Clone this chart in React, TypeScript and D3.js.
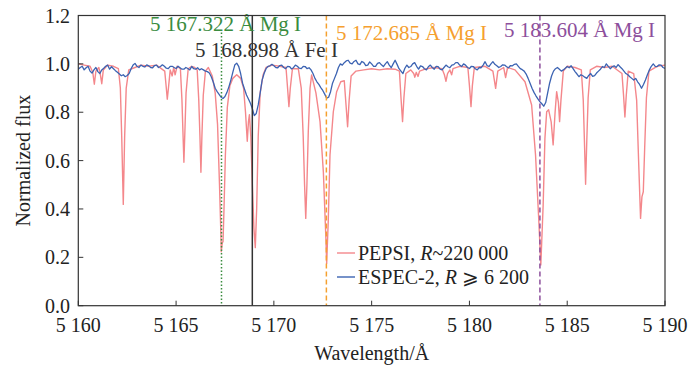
import React from "react";
import * as d3 from "d3";

// PEPSI (R~220 000) spectrum vertices
const pepsiWave = [
  5160.0, 5160.3, 5160.6, 5160.74, 5160.82, 5160.9, 5161.05, 5161.12, 5161.2, 5161.28,
  5161.5, 5161.8, 5162.05, 5162.15, 5162.22, 5162.3, 5162.37, 5162.45, 5162.58, 5162.9,
  5163.2, 5163.6, 5164.0, 5164.42, 5164.5, 5164.55, 5164.61, 5164.7, 5164.8, 5164.88,
  5164.95, 5165.05, 5165.22, 5165.3, 5165.35, 5165.4, 5165.45, 5165.51, 5165.62, 5165.8,
  5165.95, 5166.08, 5166.16, 5166.22, 5166.27, 5166.32, 5166.39, 5166.5, 5166.65, 5166.85,
  5167.0, 5167.12, 5167.22, 5167.29, 5167.31, 5167.36, 5167.4, 5167.45, 5167.52, 5167.62,
  5167.75, 5167.9, 5168.1, 5168.3, 5168.45, 5168.55, 5168.64, 5168.7, 5168.75, 5168.82,
  5168.9, 5168.98, 5169.05, 5169.12, 5169.2, 5169.3, 5169.45, 5169.6, 5169.9, 5170.3,
  5170.62, 5170.7, 5170.77, 5170.84, 5170.95, 5171.25, 5171.4, 5171.5, 5171.57, 5171.63,
  5171.69, 5171.76, 5171.85, 5171.93, 5172.15, 5172.36, 5172.53, 5172.66, 5172.7, 5172.78,
  5172.87, 5173.04, 5173.21, 5173.42, 5173.6, 5173.69, 5173.77, 5173.85, 5173.95, 5174.2,
  5174.6, 5175.0, 5175.4, 5175.8, 5176.2, 5176.42, 5176.5, 5176.58, 5176.65, 5176.75,
  5177.0, 5177.15, 5177.21, 5177.28, 5177.37, 5177.45, 5177.8, 5178.2, 5178.6, 5178.72,
  5178.8, 5178.88, 5179.0, 5179.09, 5179.16, 5179.5, 5179.92, 5180.0, 5180.08, 5180.15,
  5180.25, 5180.8, 5181.2, 5181.34, 5181.45, 5181.75, 5181.85, 5181.95, 5182.33, 5182.84,
  5183.18, 5183.38, 5183.55, 5183.65, 5183.77, 5183.86, 5183.95, 5184.05, 5184.18, 5184.28,
  5184.38, 5184.46, 5184.55, 5184.61, 5184.68, 5184.8, 5185.0, 5185.4, 5185.72, 5185.82,
  5185.88, 5185.94, 5186.0, 5186.07, 5186.18, 5186.5, 5186.9, 5187.3, 5187.8, 5187.88,
  5187.95, 5188.02, 5188.12, 5188.4, 5188.55, 5188.65, 5188.75, 5188.82, 5188.89, 5188.96,
  5189.05, 5189.18, 5189.6, 5190.0,
];
const pepsiFlux = [
  1.0, 0.995, 0.99, 0.965, 0.916, 0.97, 0.985, 0.96, 0.918, 0.975,
  0.995, 0.99, 0.98, 0.9, 0.7, 0.419, 0.7, 0.9, 0.975, 0.985,
  0.995, 0.99, 0.995, 0.97, 0.9, 0.854, 0.9, 0.975, 0.95, 0.985,
  0.955, 0.99, 0.98, 0.85, 0.72, 0.593, 0.72, 0.88, 0.98, 0.99,
  0.985, 0.975, 0.85, 0.7, 0.552, 0.7, 0.87, 0.97, 0.985, 0.95,
  0.88, 0.75, 0.5, 0.3, 0.223, 0.26, 0.265, 0.4, 0.62, 0.82,
  0.91, 0.94, 0.955, 0.94, 0.9, 0.8, 0.68, 0.76, 0.79, 0.7,
  0.5, 0.32, 0.24, 0.4, 0.7, 0.88, 0.955, 0.985, 0.995, 0.99,
  0.985, 0.9, 0.823, 0.9, 0.98, 0.98, 0.9, 0.7, 0.5, 0.361,
  0.5, 0.72, 0.9, 0.954, 0.88, 0.761, 0.554, 0.28, 0.175, 0.347,
  0.623, 0.802, 0.885, 0.926, 0.93, 0.83, 0.74, 0.85, 0.95, 0.97,
  0.975, 0.98, 0.975, 0.98, 0.978, 0.97, 0.86, 0.761, 0.86, 0.96,
  0.975, 0.96, 0.945, 0.965, 0.948, 0.97, 0.98, 0.985, 0.98, 0.955,
  0.928, 0.96, 0.975, 0.955, 0.98, 0.99, 0.985, 0.91, 0.823, 0.91,
  0.985, 0.99, 0.97, 0.899, 0.97, 0.985, 0.943, 0.985, 0.975, 0.926,
  0.83, 0.623, 0.347, 0.168, 0.416, 0.692, 0.802, 0.81, 0.76, 0.665,
  0.8, 0.885, 0.84, 0.761, 0.85, 0.97, 0.99, 0.985, 0.975, 0.85,
  0.68, 0.502, 0.68, 0.86, 0.975, 0.99, 0.985, 0.99, 0.96, 0.87,
  0.78, 0.87, 0.97, 0.96, 0.85, 0.6, 0.361, 0.45, 0.471, 0.65,
  0.86, 0.97, 0.99, 0.995,
];

// ESPEC-2 spectrum, sampled every 0.1 Å from 5160 Å
const especStart = 5160;
const especStep = 0.1;
const especFlux = [
  0.978, 0.985, 0.99, 0.975, 0.984, 0.99, 0.97, 0.962, 0.975, 0.985,
  0.968, 0.96, 0.975, 0.982, 0.99, 0.995, 0.978, 0.988, 0.98, 0.972,
  0.965, 0.958, 0.951, 0.955, 0.947, 0.952, 0.96, 0.98, 0.995, 1.002,
  0.99, 0.985, 0.995, 0.99, 0.987, 0.996, 0.992, 0.985, 0.984, 0.993,
  0.995, 0.985, 0.989, 0.996, 0.99, 0.982, 0.98, 0.99, 0.99, 0.985,
  0.981, 0.99, 0.984, 0.978, 0.978, 0.985, 0.981, 0.975, 0.989, 0.98,
  0.978, 0.984, 0.975, 0.98, 0.975, 0.97, 0.968, 0.962, 0.947, 0.925,
  0.899, 0.885, 0.874, 0.862, 0.857, 0.865, 0.882, 0.905, 0.933, 0.965,
  0.995, 1.003, 0.99, 0.96, 0.92, 0.895, 0.871, 0.855, 0.837, 0.815,
  0.786, 0.795, 0.83, 0.88, 0.933, 0.96, 0.98, 0.99, 0.992, 0.998,
  0.992, 0.985, 0.984, 0.993, 0.995, 0.985, 0.98, 0.99, 0.989, 0.979,
  0.984, 0.995, 0.99, 0.982, 0.98, 0.99, 0.989, 0.98, 0.984, 0.975,
  0.96, 0.94, 0.926, 0.915, 0.902, 0.89, 0.875, 0.858, 0.862, 0.885,
  0.92, 0.94, 0.96, 0.985, 1.0, 0.995, 1.005, 1.012, 1.015, 1.003,
  1.0, 1.01, 1.015, 1.0, 0.997, 1.01, 1.005, 0.993, 0.995, 1.008,
  1.0, 0.99, 0.99, 1.002, 1.005, 0.996, 0.989, 1.0, 1.009, 0.995,
  0.984, 1.0, 1.015, 0.998, 0.98, 0.97, 0.96, 0.982, 0.995, 0.985,
  0.989, 1.0, 1.005, 0.99, 0.978, 0.992, 0.989, 0.98, 0.975, 0.988,
  0.995, 0.985, 0.978, 0.99, 0.989, 0.978, 0.975, 0.985, 0.995, 0.988,
  0.984, 0.995, 0.997, 1.005, 1.005, 0.995, 0.989, 1.0, 0.995, 0.985,
  0.981, 0.99, 0.989, 0.98, 0.975, 0.985, 0.984, 0.995, 1.009, 0.993,
  0.989, 1.0, 1.009, 0.998, 0.992, 0.985, 0.989, 0.996, 0.995, 0.988,
  0.984, 0.993, 0.992, 0.998, 1.0, 0.99, 0.98, 0.976, 0.97, 0.958,
  0.94, 0.92, 0.899, 0.882, 0.868, 0.855, 0.844, 0.835, 0.825, 0.84,
  0.88, 0.92, 0.95, 0.97, 0.98, 0.985, 0.978, 0.97, 0.975, 0.982,
  0.989, 0.984, 0.992, 0.98, 0.968, 0.958, 0.947, 0.955, 0.951, 0.945,
  0.94, 0.952, 0.96, 0.948, 0.951, 0.962, 0.97, 0.978, 0.989, 0.985,
  1.0, 0.99, 0.98, 0.988, 0.992, 0.985, 0.997, 0.988, 0.98, 0.97,
  0.96, 0.955, 0.947, 0.94, 0.933, 0.94, 0.926, 0.915, 0.899, 0.915,
  0.933, 0.955, 0.975, 0.99, 1.0, 0.99, 0.989, 0.996, 0.995, 0.985,
  0.981,
];

const xTicks = [5160, 5165, 5170, 5175, 5180, 5185, 5190];
const yTicks = [0, 0.2, 0.4, 0.6, 0.8, 1.0, 1.2];

const markWaves = [5167.322, 5168.898, 5172.685, 5183.604];
const markLabels = ["5 167.322 Å Mg I", "5 168.898 Å Fe I", "5 172.685 Å Mg I", "5 183.604 Å Mg I"];
const markTops = [1.13, 1.2, 1.2, 1.2];

const markColors = ["#3a8c3f", "#333333", "#f5a02f", "#8d4f9c"];
const markDash = ["1.5,2", "", "5,3", "5,3"];
const markLabelPos = [
  [150, 31],
  [195, 57],
  [336, 40],
  [504, 37],
];

const W = 692;
const H = 369;
const margin = { left: 78.3, right: 27, top: 15.5, bottom: 63.3 };
const FONT = "Liberation Serif, Times New Roman, serif";
const PEPSI_COLOR = "#f4878b";
const ESPEC_COLOR = "#3c63b2";

const fmtX = (v: number) => {
  const s = String(v);
  return s.slice(0, 1) + " " + s.slice(1);
};

export default function App() {
  const x = d3.scaleLinear().domain([5160, 5190]).range([margin.left, W - margin.right]);
  const y = d3.scaleLinear().domain([0, 1.2]).range([H - margin.bottom, margin.top]);

  const pepsi = pepsiWave.map((w, i) => [w, pepsiFlux[i]] as [number, number]);
  const especWave = d3.range(especFlux.length).map((i) => especStart + especStep * i);
  const espec = especWave.map((w, i) => [w, especFlux[i]] as [number, number]);

  const line = d3
    .line<[number, number]>()
    .x((d) => x(d[0]))
    .y((d) => y(d[1]));

  const x0 = margin.left;
  const x1 = W - margin.right;
  const y0 = H - margin.bottom;
  const y1 = margin.top;
  const ts = { fontFamily: FONT };

  return (
    <svg width={W} height={H} style={{ display: "block", position: "absolute", left: 0, top: 0, fontFamily: FONT }}>
      <rect x={0} y={0} width={W} height={H} fill="#fff" />
      <defs>
        <clipPath id="plot">
          <rect x={x0} y={y1} width={x1 - x0} height={y0 - y1} />
        </clipPath>
      </defs>
      <g clipPath="url(#plot)">
        <path d={line(pepsi) || ""} fill="none" stroke={PEPSI_COLOR} strokeWidth={1.4} strokeLinejoin="round" />
        <path d={line(espec) || ""} fill="none" stroke={ESPEC_COLOR} strokeWidth={1.3} strokeLinejoin="round" />
        {markWaves.map((w, i) => (
          <line
            key={i}
            x1={x(w)}
            x2={x(w)}
            y1={y(markTops[i])}
            y2={y0}
            stroke={markColors[i]}
            strokeWidth={1.5}
            strokeDasharray={markDash[i] || undefined}
          />
        ))}
      </g>
      {markLabels.map((t, i) => (
        <text key={i} x={markLabelPos[i][0]} y={markLabelPos[i][1]} fontSize={21} fill={markColors[i]} style={ts}>
          {t}
        </text>
      ))}
      {/* frame */}
      <rect x={x0} y={y1} width={x1 - x0} height={y0 - y1} fill="none" stroke="#333" strokeWidth={1.2} />
      {xTicks.map((t) => (
        <g key={t}>
          <line x1={x(t)} x2={x(t)} y1={y0} y2={y0 - 5} stroke="#333" strokeWidth={1} />
          <text x={x(t)} y={332} fontSize={20} textAnchor="middle" fill="#222" style={ts}>
            {fmtX(t)}
          </text>
        </g>
      ))}
      {yTicks.map((t) => (
        <g key={t}>
          <line x1={x0} x2={x0 + 5} y1={y(t)} y2={y(t)} stroke="#333" strokeWidth={1} />
          <text x={70} y={y(t) + 7} fontSize={20} textAnchor="end" fill="#222" style={ts}>
            {t.toFixed(1)}
          </text>
        </g>
      ))}
      <text x={(x0 + x1) / 2} y={360} fontSize={20} textAnchor="middle" fill="#222" style={ts}>
        Wavelength/Å
      </text>
      <text
        transform={`translate(30,${(y0 + y1) / 2}) rotate(-90)`}
        fontSize={20}
        textAnchor="middle"
        fill="#222"
        style={ts}
      >
        Normalized flux
      </text>
      {/* legend */}
      <line x1={337} x2={355} y1={253} y2={253} stroke={PEPSI_COLOR} strokeWidth={1.4} />
      <text x={358} y={260} fontSize={20} fill="#222" style={ts}>
        PEPSI, <tspan fontStyle="italic">R</tspan>~220 000
      </text>
      <line x1={337} x2={355} y1={277} y2={277} stroke={ESPEC_COLOR} strokeWidth={1.4} />
      <text x={358} y={284} fontSize={20} fill="#222" style={ts}>
        ESPEC-2, <tspan fontStyle="italic">R</tspan> ⩾ 6 200
      </text>
    </svg>
  );
}
